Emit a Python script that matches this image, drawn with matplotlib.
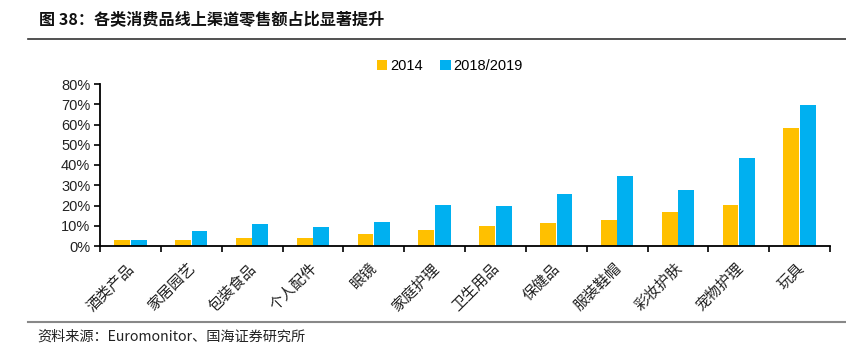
import matplotlib
matplotlib.use("Agg")
import matplotlib.pyplot as plt
from matplotlib.ticker import FixedLocator, PercentFormatter
from matplotlib.lines import Line2D
from matplotlib.transforms import ScaledTranslation
import numpy as np

categories = ["酒类产品", "家居园艺", "包装食品", "个人配件", "眼镜", "家庭护理",
              "卫生用品", "保健品", "服装鞋帽", "彩妆护肤", "宠物护理", "玩具"]
s2014 = [2.8, 3.0, 4.0, 4.0, 5.9, 7.7, 10.0, 11.2, 12.7, 16.6, 20.1, 58.4]
s2019 = [2.8, 7.4, 10.9, 9.4, 11.7, 20.1, 19.8, 25.7, 34.6, 27.7, 43.3, 69.6]
series_names = ["2014", "2018/2019"]
yticks = [0, 10, 20, 30, 40, 50, 60, 70, 80]

title = "图 38：各类消费品线上渠道零售额占比显著提升"
source = "资料来源：Euromonitor、国海证券研究所"

cjk = ["Noto Sans CJK SC", "DejaVu Sans"]
lat = ["Liberation Sans", "DejaVu Sans"]

fig = plt.figure(figsize=(8.46, 3.57), dpi=100)
ax = fig.add_axes([100/846, 1-246/357, 730/846, (246-84)/357])

x = np.arange(len(categories))
w = 0.26
ax.bar(x - 0.135, s2014, width=w, color="#FFC000", label=series_names[0], zorder=2)
ax.bar(x + 0.135, s2019, width=w, color="#00B0F0", label=series_names[1], zorder=2)

ax.set_xlim(-0.5, len(categories) - 0.5)
ax.set_ylim(0, 80)
ax.set_yticks(yticks)
ax.yaxis.set_major_formatter(PercentFormatter(decimals=0))
for lab in ax.get_yticklabels():
    lab.set_family(lat)
    lab.set_fontsize(10.5)
    lab.set_color("#222222")

ax.xaxis.set_major_locator(FixedLocator(np.arange(-0.5, len(categories), 1.0)))
ax.xaxis.set_major_formatter(plt.NullFormatter())
ax.xaxis.set_minor_locator(FixedLocator(x))
ax.set_xticklabels(categories, minor=True, rotation=45, ha="right", va="top",
                   family=cjk, fontsize=10.8, color="#222222")
ax.tick_params(axis="x", which="minor", length=0, pad=11)
ax.tick_params(axis="x", which="major", length=4, width=1.2, direction="out")
ax.tick_params(axis="y", length=4, width=1.2, direction="out", pad=3)
shift = ScaledTranslation(7/100, 0, fig.dpi_scale_trans)
for lab in ax.get_xticklabels(minor=True):
    lab.set_transform(lab.get_transform() + shift)

for s in ["top", "right"]:
    ax.spines[s].set_visible(False)
for s in ["left", "bottom"]:
    ax.spines[s].set_linewidth(1.3)
    ax.spines[s].set_color("black")

leg = ax.legend(loc="center", bbox_to_anchor=(450/846, 1-66/357),
                bbox_transform=fig.transFigure, ncol=2, frameon=False,
                prop={"family": lat, "size": 10.5}, handlelength=0.7,
                handleheight=0.7, handletextpad=0.2, columnspacing=1.2)

fig.text(39/846, 1-19/357, title, family=cjk, fontsize=11.6, fontweight="bold",
         va="center", ha="left", color="#111111")
fig.add_artist(Line2D([28/846, 1], [1-39/357, 1-39/357], transform=fig.transFigure,
                      color="#333333", linewidth=1.2))
fig.add_artist(Line2D([28/846, 1], [1-322/357, 1-322/357], transform=fig.transFigure,
                      color="#888888", linewidth=1.5))
fig.text(37/846, 1-337/357, source, family=cjk, fontsize=10.2, va="center",
         ha="left", color="#222222")

fig.savefig("out.png", dpi=100)
